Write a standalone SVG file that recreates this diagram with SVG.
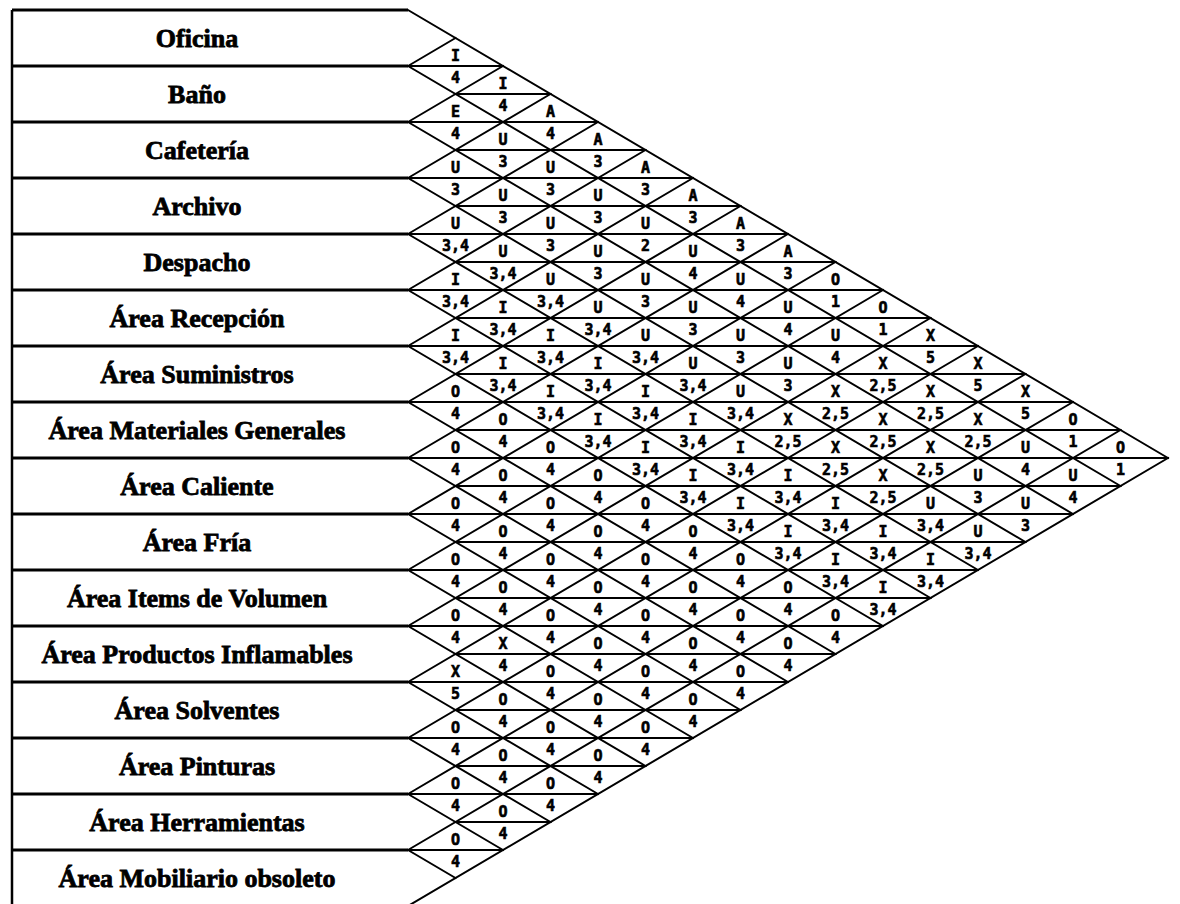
<svg xmlns="http://www.w3.org/2000/svg" width="1180" height="904" viewBox="0 0 1180 904">
<style>
.bg{fill:#fff}
.col{stroke:#000;stroke-width:3;fill:none}
.colv{stroke:#000;stroke-width:2.5;fill:none}
.grid{stroke:#000;stroke-width:2;fill:none;stroke-linecap:square}
.dep{font-family:"Liberation Serif","Times New Roman",serif;font-weight:bold;font-size:26px;text-anchor:middle;fill:#000;stroke:#000;stroke-width:0.8}
.c{font-family:"DejaVu Sans Mono","Liberation Mono",monospace;font-weight:bold;font-size:15px;text-anchor:middle;fill:#000;stroke:#000;stroke-width:0.6}
</style>
<rect class="bg" x="0" y="0" width="1180" height="904"/>
<g id="connectors">
<path class="colv" d="M12 10V906"/>
<path class="col" d="M12 10H408M12 66H408M12 122H408M12 178H408M12 234H408M12 290H408M12 346H408M12 402H408M12 458H408M12 514H408M12 570H408M12 626H408M12 682H408M12 738H408M12 794H408M12 850H408M12 906H408"/>
<path class="grid" d="M408 10L1168 458M408 66L1120.5 486M408 122L1073 514M408 178L1025.5 542M408 234L978 570M408 290L930.5 598M408 346L883 626M408 402L835.5 654M408 458L788 682M408 514L740.5 710M408 570L693 738M408 626L645.5 766M408 682L598 794M408 738L550.5 822M408 794L503 850M408 850L455.5 878"/>
<path class="grid" d="M408 66L455.5 38M408 122L503 66M408 178L550.5 94M408 234L598 122M408 290L645.5 150M408 346L693 178M408 402L740.5 206M408 458L788 234M408 514L835.5 262M408 570L883 290M408 626L930.5 318M408 682L978 346M408 738L1025.5 374M408 794L1073 402M408 850L1120.5 430M408 906L1168 458"/>
<path class="grid" d="M408 66H503M455.5 94H550.5M408 122H598M455.5 150H645.5M408 178H693M455.5 206H740.5M408 234H788M455.5 262H835.5M408 290H883M455.5 318H930.5M408 346H978M455.5 374H1025.5M408 402H1073M455.5 430H1120.5M408 458H1168M455.5 486H1120.5M408 514H1073M455.5 542H1025.5M408 570H978M455.5 598H930.5M408 626H883M455.5 654H835.5M408 682H788M455.5 710H740.5M408 738H693M455.5 766H645.5M408 794H598M455.5 822H550.5M408 850H503"/>
</g>
<g id="n-oficina"><text class="dep" x="197" y="47">Oficina</text></g>
<g id="n-bano"><text class="dep" x="197" y="103">Baño</text></g>
<g id="n-cafeteria"><text class="dep" x="197" y="159">Cafetería</text></g>
<g id="n-archivo"><text class="dep" x="197" y="215">Archivo</text></g>
<g id="n-despacho"><text class="dep" x="197" y="271">Despacho</text></g>
<g id="n-recepcion"><text class="dep" x="197" y="327">Área Recepción</text></g>
<g id="n-suministros"><text class="dep" x="197" y="383">Área Suministros</text></g>
<g id="n-materiales"><text class="dep" x="197" y="439">Área Materiales Generales</text></g>
<g id="n-caliente"><text class="dep" x="197" y="495">Área Caliente</text></g>
<g id="n-fria"><text class="dep" x="197" y="551">Área Fría</text></g>
<g id="n-volumen"><text class="dep" x="197" y="607">Área Items de Volumen</text></g>
<g id="n-inflamables"><text class="dep" x="197" y="663">Área Productos Inflamables</text></g>
<g id="n-solventes"><text class="dep" x="197" y="719">Área Solventes</text></g>
<g id="n-pinturas"><text class="dep" x="197" y="775">Área Pinturas</text></g>
<g id="n-herramientas"><text class="dep" x="197" y="831">Área Herramientas</text></g>
<g id="n-mobiliario"><text class="dep" x="197" y="887">Área Mobiliario obsoleto</text></g>
<g id="codes" class="c">
<text x="455.5" y="61">I</text>
<text x="455.5" y="83">4</text><text x="503" y="89">I</text>
<text x="455.5" y="117">E</text><text x="503" y="111">4</text><text x="550.5" y="117">A</text>
<text x="455.5" y="139">4</text><text x="503" y="145">U</text><text x="550.5" y="139">4</text><text x="598" y="145">A</text>
<text x="455.5" y="173">U</text><text x="503" y="167">3</text><text x="550.5" y="173">U</text><text x="598" y="167">3</text><text x="645.5" y="173">A</text>
<text x="455.5" y="195">3</text><text x="503" y="201">U</text><text x="550.5" y="195">3</text><text x="598" y="201">U</text><text x="645.5" y="195">3</text><text x="693" y="201">A</text>
<text x="455.5" y="229">U</text><text x="503" y="223">3</text><text x="550.5" y="229">U</text><text x="598" y="223">3</text><text x="645.5" y="229">U</text><text x="693" y="223">3</text><text x="740.5" y="229">A</text>
<text x="455.5" y="251">3,4</text><text x="503" y="257">U</text><text x="550.5" y="251">3</text><text x="598" y="257">U</text><text x="645.5" y="251">2</text><text x="693" y="257">U</text><text x="740.5" y="251">3</text><text x="788" y="257">A</text>
<text x="455.5" y="285">I</text><text x="503" y="279">3,4</text><text x="550.5" y="285">U</text><text x="598" y="279">3</text><text x="645.5" y="285">U</text><text x="693" y="279">4</text><text x="740.5" y="285">U</text><text x="788" y="279">3</text><text x="835.5" y="285">O</text>
<text x="455.5" y="307">3,4</text><text x="503" y="313">I</text><text x="550.5" y="307">3,4</text><text x="598" y="313">U</text><text x="645.5" y="307">3</text><text x="693" y="313">U</text><text x="740.5" y="307">4</text><text x="788" y="313">U</text><text x="835.5" y="307">1</text><text x="883" y="313">O</text>
<text x="455.5" y="341">I</text><text x="503" y="335">3,4</text><text x="550.5" y="341">I</text><text x="598" y="335">3,4</text><text x="645.5" y="341">U</text><text x="693" y="335">3</text><text x="740.5" y="341">U</text><text x="788" y="335">4</text><text x="835.5" y="341">U</text><text x="883" y="335">1</text><text x="930.5" y="341">X</text>
<text x="455.5" y="363">3,4</text><text x="503" y="369">I</text><text x="550.5" y="363">3,4</text><text x="598" y="369">I</text><text x="645.5" y="363">3,4</text><text x="693" y="369">U</text><text x="740.5" y="363">3</text><text x="788" y="369">U</text><text x="835.5" y="363">4</text><text x="883" y="369">X</text><text x="930.5" y="363">5</text><text x="978" y="369">X</text>
<text x="455.5" y="397">O</text><text x="503" y="391">3,4</text><text x="550.5" y="397">I</text><text x="598" y="391">3,4</text><text x="645.5" y="397">I</text><text x="693" y="391">3,4</text><text x="740.5" y="397">U</text><text x="788" y="391">3</text><text x="835.5" y="397">X</text><text x="883" y="391">2,5</text><text x="930.5" y="397">X</text><text x="978" y="391">5</text><text x="1025.5" y="397">X</text>
<text x="455.5" y="419">4</text><text x="503" y="425">O</text><text x="550.5" y="419">3,4</text><text x="598" y="425">I</text><text x="645.5" y="419">3,4</text><text x="693" y="425">I</text><text x="740.5" y="419">3,4</text><text x="788" y="425">X</text><text x="835.5" y="419">2,5</text><text x="883" y="425">X</text><text x="930.5" y="419">2,5</text><text x="978" y="425">X</text><text x="1025.5" y="419">5</text><text x="1073" y="425">O</text>
<text x="455.5" y="453">O</text><text x="503" y="447">4</text><text x="550.5" y="453">O</text><text x="598" y="447">3,4</text><text x="645.5" y="453">I</text><text x="693" y="447">3,4</text><text x="740.5" y="453">I</text><text x="788" y="447">2,5</text><text x="835.5" y="453">X</text><text x="883" y="447">2,5</text><text x="930.5" y="453">X</text><text x="978" y="447">2,5</text><text x="1025.5" y="453">U</text><text x="1073" y="447">1</text><text x="1120.5" y="453">O</text>
<text x="455.5" y="475">4</text><text x="503" y="481">O</text><text x="550.5" y="475">4</text><text x="598" y="481">O</text><text x="645.5" y="475">3,4</text><text x="693" y="481">I</text><text x="740.5" y="475">3,4</text><text x="788" y="481">I</text><text x="835.5" y="475">2,5</text><text x="883" y="481">X</text><text x="930.5" y="475">2,5</text><text x="978" y="481">U</text><text x="1025.5" y="475">4</text><text x="1073" y="481">U</text><text x="1120.5" y="475">1</text>
<text x="455.5" y="509">O</text><text x="503" y="503">4</text><text x="550.5" y="509">O</text><text x="598" y="503">4</text><text x="645.5" y="509">O</text><text x="693" y="503">3,4</text><text x="740.5" y="509">I</text><text x="788" y="503">3,4</text><text x="835.5" y="509">I</text><text x="883" y="503">2,5</text><text x="930.5" y="509">U</text><text x="978" y="503">3</text><text x="1025.5" y="509">U</text><text x="1073" y="503">4</text>
<text x="455.5" y="531">4</text><text x="503" y="537">O</text><text x="550.5" y="531">4</text><text x="598" y="537">O</text><text x="645.5" y="531">4</text><text x="693" y="537">O</text><text x="740.5" y="531">3,4</text><text x="788" y="537">I</text><text x="835.5" y="531">3,4</text><text x="883" y="537">I</text><text x="930.5" y="531">3,4</text><text x="978" y="537">U</text><text x="1025.5" y="531">3</text>
<text x="455.5" y="565">O</text><text x="503" y="559">4</text><text x="550.5" y="565">O</text><text x="598" y="559">4</text><text x="645.5" y="565">O</text><text x="693" y="559">4</text><text x="740.5" y="565">O</text><text x="788" y="559">3,4</text><text x="835.5" y="565">I</text><text x="883" y="559">3,4</text><text x="930.5" y="565">I</text><text x="978" y="559">3,4</text>
<text x="455.5" y="587">4</text><text x="503" y="593">O</text><text x="550.5" y="587">4</text><text x="598" y="593">O</text><text x="645.5" y="587">4</text><text x="693" y="593">O</text><text x="740.5" y="587">4</text><text x="788" y="593">O</text><text x="835.5" y="587">3,4</text><text x="883" y="593">I</text><text x="930.5" y="587">3,4</text>
<text x="455.5" y="621">O</text><text x="503" y="615">4</text><text x="550.5" y="621">O</text><text x="598" y="615">4</text><text x="645.5" y="621">O</text><text x="693" y="615">4</text><text x="740.5" y="621">O</text><text x="788" y="615">4</text><text x="835.5" y="621">O</text><text x="883" y="615">3,4</text>
<text x="455.5" y="643">4</text><text x="503" y="649">X</text><text x="550.5" y="643">4</text><text x="598" y="649">O</text><text x="645.5" y="643">4</text><text x="693" y="649">O</text><text x="740.5" y="643">4</text><text x="788" y="649">O</text><text x="835.5" y="643">4</text>
<text x="455.5" y="677">X</text><text x="503" y="671">4</text><text x="550.5" y="677">O</text><text x="598" y="671">4</text><text x="645.5" y="677">O</text><text x="693" y="671">4</text><text x="740.5" y="677">O</text><text x="788" y="671">4</text>
<text x="455.5" y="699">5</text><text x="503" y="705">O</text><text x="550.5" y="699">4</text><text x="598" y="705">O</text><text x="645.5" y="699">4</text><text x="693" y="705">O</text><text x="740.5" y="699">4</text>
<text x="455.5" y="733">O</text><text x="503" y="727">4</text><text x="550.5" y="733">O</text><text x="598" y="727">4</text><text x="645.5" y="733">O</text><text x="693" y="727">4</text>
<text x="455.5" y="755">4</text><text x="503" y="761">O</text><text x="550.5" y="755">4</text><text x="598" y="761">O</text><text x="645.5" y="755">4</text>
<text x="455.5" y="789">O</text><text x="503" y="783">4</text><text x="550.5" y="789">O</text><text x="598" y="783">4</text>
<text x="455.5" y="811">4</text><text x="503" y="817">O</text><text x="550.5" y="811">4</text>
<text x="455.5" y="845">O</text><text x="503" y="839">4</text>
<text x="455.5" y="867">4</text>
</g>
</svg>
